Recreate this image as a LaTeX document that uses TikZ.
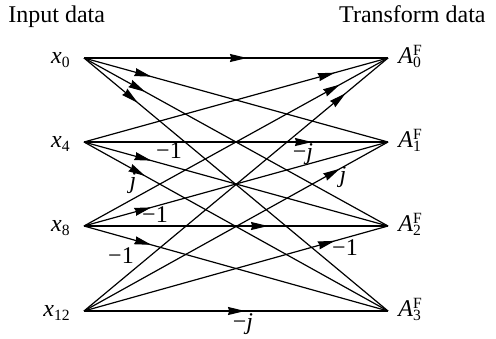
\documentclass[tikz,border=0pt]{standalone}
\usepackage{fontspec}
\setmainfont{Liberation Serif}
\usetikzlibrary{arrows.meta,decorations.markings}
\newcommand\subsc[1]{\raisebox{-2.3pt}{\fontsize{7.8}{8}\selectfont #1}}
\newcommand\subsup[2]{\makebox[0pt][l]{\raisebox{3.6pt}{\fontsize{7.8}{8}\selectfont #2}}\raisebox{-2.3pt}{\fontsize{7.8}{8}\selectfont #1}}
\tikzset{
  edge/.style={line width=0.6pt},
  tipmark/.style={decoration={markings, mark=at position #1 with {\arrow{Stealth[length=8.5pt,width=4pt,inset=0.6pt]}}}, postaction={decorate}},
  startarr/.style={edge, tipmark=35pt},
  endarr/.style={edge, tipmark=-27.5pt},
  lbl/.style={font=\fontsize{12}{14}\selectfont, inner sep=0pt},
  inlbl/.style={lbl, anchor=base east},
  outlbl/.style={lbl, anchor=base west},
  wlbl/.style={lbl}
}
\begin{document}
\begin{tikzpicture}[x=0.5pt,y=-0.5pt]
\useasboundingbox (0,0) rectangle (496,338);
% titles
\node[lbl, anchor=base west] (tin) at (8,22) {Input data};
\node[lbl, anchor=base east] (tout) at (486,22) {Transform data};
% points
\coordinate (L0) at (84,58);
\coordinate (L1) at (84,142);
\coordinate (L2) at (84,226);
\coordinate (L3) at (84,311);
\coordinate (R0) at (388,58);
\coordinate (R1) at (388,142);
\coordinate (R2) at (388,226);
\coordinate (R3) at (388,311);
% input labels
\node[inlbl] (x0) at (70,63) {\textit{x}\subsc{0}};
\node[inlbl] (x4) at (70,147) {\textit{x}\subsc{4}};
\node[inlbl] (x8) at (70,231) {\textit{x}\subsc{8}};
\node[inlbl] (x12) at (70,316) {\textit{x}\subsc{12}};
% output labels
\node[outlbl] (A0) at (398,63) {\textit{A}\subsup{0}{F}};
\node[outlbl] (A1) at (398,147) {\textit{A}\subsup{1}{F}};
\node[outlbl] (A2) at (398,231) {\textit{A}\subsup{2}{F}};
\node[outlbl] (A3) at (398,316) {\textit{A}\subsup{3}{F}};
% edges from x0
\draw[edge, tipmark=81.5pt] (L0) -- (R0);
\draw[startarr] (L0) -- (R1);
\draw[startarr] (L0) -- (R2);
\draw[startarr] (L0) -- (R3);
% edges from x4
\draw[endarr] (L1) -- (R0);
\draw[edge, tipmark=114pt] (L1) -- (R1);
\draw[startarr] (L1) -- (R2);
\draw[startarr] (L1) -- (R3);
% edges from x8
\draw[endarr] (L2) -- (R0);
\draw[startarr] (L2) -- (R1);
\draw[edge, tipmark=92pt] (L2) -- (R2);
\draw[startarr] (L2) -- (R3);
% edges from x12
\draw[endarr] (L3) -- (R0);
\draw[endarr] (L3) -- (R1);
\draw[endarr] (L3) -- (R2);
\draw[edge, tipmark=80.5pt] (L3) -- (R3);
% weights
\node[wlbl] (w1) at (169,151) {−1};
\node[wlbl] (w2) at (303,154) {−\textit{j}};
\node[wlbl] (w3) at (133,183) {\textit{j}};
\node[wlbl] (w4) at (155,215) {−1};
\node[wlbl] (w5) at (121,256) {−1};
\node[wlbl] (w6) at (343,177) {\textit{j}};
\node[wlbl] (w7) at (345,248) {−1};
\node[wlbl] (w8) at (243,324) {−\textit{j}};
\end{tikzpicture}
\end{document}
